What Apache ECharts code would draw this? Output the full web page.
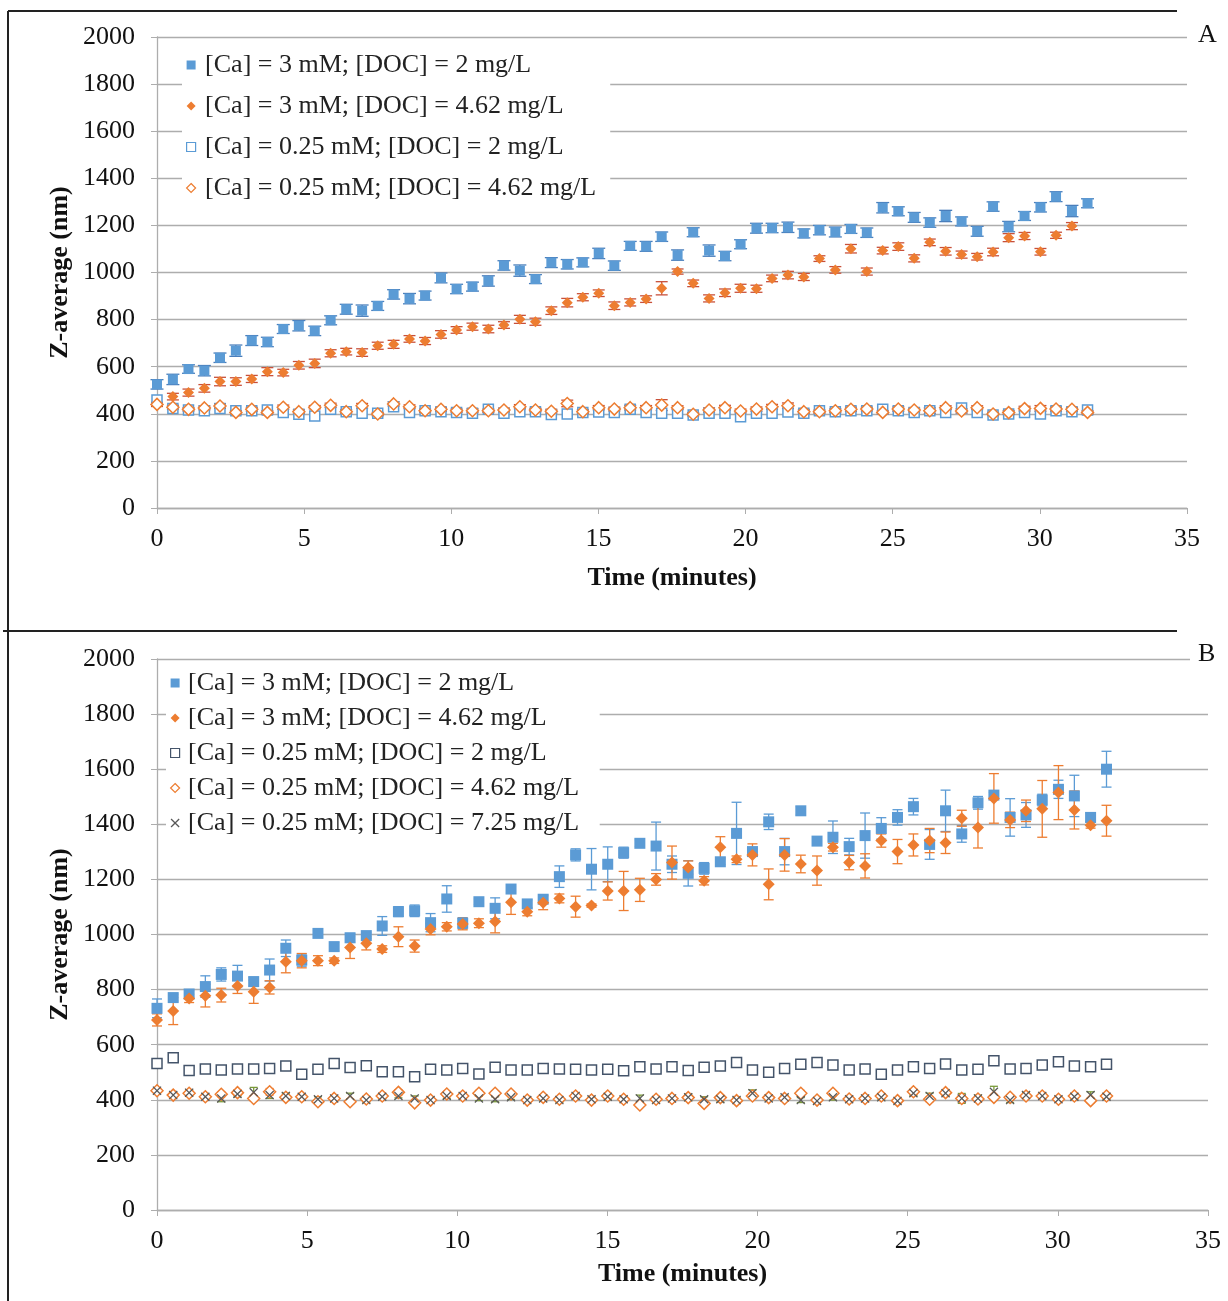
<!DOCTYPE html>
<html>
<head>
<meta charset="utf-8">
<title>Z-average vs time</title>
<script src="https://cdn.jsdelivr.net/npm/echarts@6/dist/echarts.min.js"></script>
<style>
  html, body { margin: 0; padding: 0; background: #fff; }
  #chart { width: 1228px; height: 1301px; }
</style>
</head>
<body>
<div id="chart"></div>
<script>
  // sampling times (minutes), shared by every series
  const times = [0.00, 0.54, 1.07, 1.61, 2.14, 2.68, 3.22, 3.75, 4.29, 4.82, 5.36, 5.90, 6.43, 6.97, 7.50, 8.04, 8.58, 9.11, 9.65, 10.18,
    10.72, 11.26, 11.79, 12.33, 12.86, 13.40, 13.94, 14.47, 15.01, 15.54, 16.08, 16.62, 17.15, 17.69, 18.22, 18.76, 19.30, 19.83, 20.37, 20.90,
    21.44, 21.98, 22.51, 23.05, 23.58, 24.12, 24.66, 25.19, 25.73, 26.26, 26.80, 27.34, 27.87, 28.41, 28.94, 29.48, 30.02, 30.55, 31.09, 31.62];

  const legendNames = ['[Ca] = 3 mM; [DOC] = 2 mg/L', '[Ca] = 3 mM; [DOC] = 4.62 mg/L', '[Ca] = 0.25 mM; [DOC] = 2 mg/L',
    '[Ca] = 0.25 mM; [DOC] = 4.62 mg/L', '[Ca] = 0.25 mM; [DOC] = 7.25 mg/L'];
  const yTicks = [0, 200, 400, 600, 800, 1000, 1200, 1400, 1600, 1800, 2000];
  const xTicks = [0, 5, 10, 15, 20, 25, 30, 35];

  // ---- panel A ----
  const a_ca3_doc2 = [525, 546, 590, 583, 638, 668, 711, 705, 760, 774, 752, 797, 844, 838, 858, 907, 889, 902, 977, 930,
    940, 964, 1030, 1008, 972, 1042, 1035, 1043, 1081, 1029, 1113, 1111, 1152, 1074, 1171, 1093, 1070, 1120, 1188, 1189,
    1192, 1166, 1180, 1172, 1185, 1169, 1275, 1260, 1234, 1212, 1240, 1217, 1175, 1280, 1195, 1240, 1277, 1322, 1261, 1294];
  const a_ca3_doc2_err = [20, 22, 18, 22, 20, 24, 21, 20, 19, 22, 20, 19, 21, 24, 19, 20, 22, 19, 21, 20,
    19, 22, 20, 24, 19, 21, 20, 19, 22, 20, 19, 21, 20, 22, 19, 24, 20, 19, 21, 20,
    22, 19, 20, 21, 19, 20, 22, 19, 21, 20, 24, 19, 21, 20, 22, 19, 20, 21, 24, 19];
  const a_ca3_doc462 = [null, 473, 490, 508, 537, 537, 548, 579, 575, 606, 614, 657, 664, 660, 689, 695, 718, 709, 737, 756,
    770, 760, 777, 801, 791, 838, 872, 895, 912, 859, 873, 887, 933, 1004, 954, 890, 914, 933, 931, 975,
    989, 981, 1059, 1011, 1101, 1004, 1093, 1110, 1060, 1128, 1090, 1076, 1067, 1087, 1148, 1155, 1088, 1158, 1197, null];
  const a_ca3_doc462_err = [0, 14, 15, 16, 18, 16, 15, 17, 14, 16, 18, 15, 14, 16, 15, 17, 14, 15, 16, 14,
    15, 16, 14, 17, 15, 16, 18, 15, 14, 16, 15, 14, 28, 11, 14, 15, 16, 17, 15, 14,
    16, 15, 12, 14, 18, 15, 14, 16, 15, 14, 16, 15, 14, 16, 17, 15, 14, 13, 15, 0];
  const a_ca025_doc2 = [459, 423, 416, 413, 423, 413, 413, 416, 406, 398, 391, 419, 409, 402, 402, 430, 405, 413, 409, 405,
    402, 419, 402, 409, 409, 397, 399, 405, 408, 406, 419, 405, 402, 402, 395, 402, 402, 388, 402, 402,
    408, 402, 413, 409, 413, 413, 419, 413, 406, 413, 406, 425, 406, 395, 399, 405, 399, 413, 409, 416];
  const a_ca025_doc2_err = [8, 7, 6, 7, 8, 6, 7, 6, 8, 7, 6, 7, 8, 6, 7, 6, 7, 8, 6, 7,
    6, 7, 8, 6, 7, 6, 7, 8, 6, 7, 6, 7, 8, 6, 7, 6, 8, 7, 6, 7,
    8, 6, 7, 6, 7, 8, 6, 7, 6, 7, 8, 6, 7, 6, 7, 8, 6, 7, 6, 7];
  const a_ca025_doc462 = [440, 428, 419, 425, 433, 406, 419, 406, 428, 409, 428, 436, 409, 434, 399, 442, 430, 413, 419, 413,
    413, 413, 416, 430, 416, 411, 444, 409, 426, 420, 426, 426, 437, 426, 398, 416, 426, 412, 420, 430,
    434, 409, 409, 413, 419, 420, 406, 420, 416, 413, 426, 412, 426, 399, 405, 422, 423, 420, 419, 406];
  const a_ca025_doc462_err = [9, 8, 7, 8, 10, 7, 8, 7, 9, 8, 7, 9, 8, 10, 7, 9, 8, 7, 8, 7,
    8, 7, 8, 9, 7, 8, 14, 8, 9, 8, 10, 9, 23, 8, 7, 9, 10, 8, 9, 10,
    12, 8, 7, 8, 9, 8, 7, 9, 8, 12, 8, 9, 8, 7, 8, 10, 12, 9, 8, 7];

  // ---- panel B ----
  const b_ca3_doc2 = [732, 771, 784, 811, 855, 849, 829, 871, 950, 907, 1004, 956, 988, 996, 1031, 1083, 1086, 1043, 1129, 1041,
    1119, 1095, 1165, 1111, 1128, 1210, 1289, 1237, 1255, 1297, 1331, 1321, 1255, 1222, 1240, 1264, 1367, 1301, 1409, 1301,
    1449, 1339, 1353, 1319, 1359, 1385, 1425, 1464, 1327, 1449, 1365, 1478, 1506, 1425, 1434, 1488, 1527, 1503, 1425, 1600];
  const b_ca3_doc2_err = [34, 12, 12, 39, 24, 39, 16, 40, 30, 22, 10, 15, 16, 10, 34, 18, 21, 33, 48, 20,
    10, 38, 10, 15, 15, 39, 22, 75, 63, 20, 12, 87, 30, 46, 21, 10, 113, 12, 28, 48,
    15, 10, 59, 30, 82, 39, 28, 30, 54, 75, 30, 23, 10, 68, 45, 21, 33, 75, 16, 65];
  const b_ca3_doc462 = [690, 722, 768, 778, 780, 813, 792, 808, 901, 905, 905, 905, 953, 968, 947, 992, 958, 1020, 1028, 1038,
    1041, 1047, 1117, 1083, 1115, 1131, 1101, 1105, 1158, 1158, 1162, 1200, 1261, 1243, 1195, 1317, 1273, 1289, 1182, 1289,
    1256, 1232, 1317, 1261, 1249, 1341, 1301, 1325, 1341, 1333, 1422, 1388, 1494, 1416, 1449, 1456, 1515, 1452, 1397, 1413];
  const b_ca3_doc462_err = [22, 49, 15, 41, 25, 27, 42, 24, 40, 26, 18, 10, 40, 24, 12, 36, 22, 21, 15, 21,
    16, 41, 44, 15, 25, 16, 38, 6, 33, 71, 42, 21, 60, 24, 15, 38, 12, 40, 56, 59,
    32, 53, 14, 26, 44, 24, 44, 40, 44, 39, 29, 74, 90, 28, 39, 103, 98, 69, 11, 56];
  const b_ca025_doc2 = [532, 553, 506, 512, 508, 512, 512, 514, 523, 493, 511, 532, 517, 524, 502, 502, 484, 511, 508, 514,
    494, 518, 508, 508, 514, 512, 511, 508, 511, 505, 520, 512, 520, 506, 518, 523, 535, 508, 500, 514,
    529, 535, 526, 508, 512, 493, 508, 520, 514, 530, 508, 511, 542, 512, 514, 526, 538, 523, 520, 529];
  const b_ca025_doc2_err = [8, 13, 6, 7, 6, 7, 6, 7, 9, 6, 7, 12, 7, 8, 6, 7, 6, 7, 6, 7,
    6, 7, 6, 7, 6, 7, 6, 7, 6, 7, 8, 7, 8, 6, 7, 9, 13, 7, 6, 7,
    12, 12, 8, 6, 7, 6, 7, 8, 6, 8, 6, 7, 12, 6, 7, 8, 12, 7, 6, 8];
  const b_ca025_doc462 = [433, 417, 424, 411, 420, 426, 405, 429, 409, 411, 393, 405, 393, 403, 414, 427, 389, 399, 421, 414,
    424, 424, 421, 399, 409, 402, 414, 399, 414, 402, 381, 402, 405, 408, 387, 408, 397, 414, 408, 405,
    424, 399, 424, 403, 405, 414, 397, 429, 402, 426, 405, 403, 409, 409, 414, 414, 402, 414, 397, 414];
  const b_ca025_doc462_err = [9, 8, 10, 8, 9, 10, 8, 12, 9, 8, 7, 9, 8, 7, 9, 10, 8, 7, 9, 8,
    10, 9, 8, 7, 9, 8, 9, 7, 8, 9, 8, 7, 9, 8, 7, 8, 9, 10, 8, 9,
    10, 8, 9, 8, 7, 9, 8, 10, 9, 8, 9, 8, 10, 9, 8, 9, 8, 9, 8, 9];
  const b_ca025_doc725 = [433, 417, 426, 411, 405, 421, 427, 417, 414, 411, 402, 405, 414, 399, 411, 414, 405, 399, 414, 414,
    405, 402, 409, 399, 405, 399, 414, 402, 411, 402, 405, 399, 405, 409, 402, 402, 399, 424, 405, 409,
    399, 396, 409, 402, 405, 409, 396, 424, 414, 424, 405, 405, 429, 399, 417, 414, 402, 411, 417, 411];
  const b_ca025_doc725_err = [9, 8, 10, 9, 12, 10, 18, 12, 10, 8, 9, 8, 10, 9, 8, 7, 9, 8, 9, 10,
    8, 9, 8, 7, 9, 8, 9, 8, 10, 9, 12, 9, 10, 12, 9, 10, 8, 12, 9, 8,
    9, 8, 10, 9, 8, 9, 8, 9, 10, 9, 18, 12, 20, 9, 10, 9, 8, 10, 12, 9];

  const FONT = 'Liberation Serif';
  const BLUE = '#5B9BD5';
  const ORANGE = '#ED7D31';
  const NAVY = '#44546A';
  const GREY = '#595959';
  const GRIDC = '#ADADAD';
  // path symbols keep their aspect in the legend boxes
  const SQ = 'path://M0,0H10V10H0Z';
  const DM = 'path://M5,0L10,5L5,10L0,5Z';
  const CROSS = 'path://M0,1L1,0L10,9L9,10ZM9,0L10,1L1,10L0,9Z';

  function points(vals) {
    const out = [];
    vals.forEach((v, i) => { if (v != null) out.push([times[i], v]); });
    return out;
  }
  function errRows(vals, errs) {
    const out = [];
    vals.forEach((v, i) => { if (v != null) out.push([times[i], v, errs[i]]); });
    return out;
  }

  function errRender(color, cap) {
    return function (params, api) {
      const x = api.value(0), y = api.value(1), e = api.value(2);
      const top = api.coord([x, y + e]);
      const bot = api.coord([x, y - e]);
      const style = { stroke: color, lineWidth: 1.3, fill: null };
      return {
        type: 'group',
        children: [
          { type: 'line', shape: { x1: top[0], y1: top[1], x2: bot[0], y2: bot[1] }, style: style },
          { type: 'line', shape: { x1: top[0] - cap, y1: top[1], x2: top[0] + cap, y2: top[1] }, style: style },
          { type: 'line', shape: { x1: bot[0] - cap, y1: bot[1], x2: bot[0] + cap, y2: bot[1] }, style: style }
        ]
      };
    };
  }

  function errSeries(idx, vals, errs, color, cap) {
    return {
      type: 'custom',
      name: 'err',
      xAxisIndex: idx,
      yAxisIndex: idx,
      silent: true,
      animation: false,
      z: 1,
      renderItem: errRender(color, cap),
      encode: { x: 0, y: 1 },
      data: errRows(vals, errs)
    };
  }

  function dots(idx, name, vals, symbol, size, fill, stroke, bw) {
    return {
      type: 'scatter',
      name: name,
      xAxisIndex: idx,
      yAxisIndex: idx,
      symbol: symbol,
      symbolSize: size,
      itemStyle: { color: fill, borderColor: stroke, borderWidth: bw, opacity: 1 },
      animation: false,
      z: 3,
      data: points(vals)
    };
  }

  function xAx(idx, gap) {
    return {
      type: 'value', gridIndex: idx, min: xTicks[0], max: xTicks[xTicks.length - 1], interval: 5,
      name: 'Time (minutes)', nameLocation: 'middle', nameGap: gap, nameMoveOverlap: false,
      nameTextStyle: { fontFamily: FONT, fontSize: 26, fontWeight: 'bold', color: '#111' },
      axisLine: { show: true, lineStyle: { color: GRIDC, width: 1.3 } },
      axisTick: { show: true, length: 6, lineStyle: { color: GRIDC } },
      axisLabel: { margin: 18, fontFamily: FONT, fontSize: 26, color: '#111' },
      splitLine: { show: false }
    };
  }
  function yAx(idx) {
    return {
      type: 'value', gridIndex: idx, min: yTicks[0], max: yTicks[yTicks.length - 1], interval: 200,
      name: 'Z-average (nm)', nameLocation: 'middle', nameGap: 84, nameRotate: 90, nameMoveOverlap: false,
      nameTextStyle: { fontFamily: FONT, fontSize: 26, fontWeight: 'bold', color: '#111' },
      axisLine: { show: true, lineStyle: { color: GRIDC, width: 1.3 } },
      axisTick: { show: true, length: 6, lineStyle: { color: GRIDC } },
      axisLabel: { margin: 22, fontFamily: FONT, fontSize: 26, color: '#111', formatter: v => String(v) },
      splitLine: { show: true, lineStyle: { color: GRIDC, width: 1.3 } }
    };
  }

  // panel B series get a trailing space so the two legends stay apart
  const bNames = legendNames.map(n => n + ' ');
  // outline-only markers keep a thin border in the legend, filled ones none
  const outlined = [false, false, true, true, false];

  function legendBox(left, top, iw, gap, names) {
    return {
      orient: 'vertical', left: left, top: top, padding: [4, 14, 4, 4],
      backgroundColor: '#fff', itemWidth: iw, itemHeight: 9, itemGap: gap,
      selectedMode: false, symbolKeepAspect: true,
      textStyle: { fontFamily: FONT, fontSize: 26, lineHeight: 30, color: '#222' },
      data: names.map((n, i) => ({ name: n, itemStyle: { borderWidth: outlined[i] ? 1.2 : 0 } }))
    };
  }

  const options = {
    backgroundColor: '#fff',
    animation: false,
    grid: [
      { left: 157, right: 41, top: 37, bottom: 793, containLabel: false, outerBoundsMode: 'none' },
      { left: 157, right: 20, top: 659, bottom: 91, containLabel: false, outerBoundsMode: 'none' }
    ],
    xAxis: [xAx(0, 57), xAx(1, 51)],
    yAxis: [yAx(0), yAx(1)],
    legend: [
      legendBox(182, 46, 18, 11, legendNames.slice(0, 4)),
      legendBox(166, 664, 16, 5, bNames)
    ],
    graphic: [
      { type: 'line', z: 50, shape: { x1: 8, y1: 11, x2: 1177, y2: 11 }, style: { stroke: '#222', lineWidth: 2 } },
      { type: 'line', z: 50, shape: { x1: 8, y1: 11, x2: 8, y2: 1301 }, style: { stroke: '#222', lineWidth: 2 } },
      { type: 'line', z: 50, shape: { x1: 3, y1: 631, x2: 1177, y2: 631 }, style: { stroke: '#222', lineWidth: 2 } },
      { type: 'text', z: 50, left: 1190, top: 22,
        style: { text: 'A', font: '26px "Liberation Serif"', fill: '#111', backgroundColor: '#fff', padding: [0, 10, 0, 8] } },
      { type: 'text', z: 50, left: 1190, top: 641,
        style: { text: 'B', font: '26px "Liberation Serif"', fill: '#111', backgroundColor: '#fff', padding: [0, 10, 0, 8] } }
    ],
    series: [
      // panel A
      errSeries(0, a_ca3_doc2, a_ca3_doc2_err, '#4A7EBB', 6.5),
      errSeries(0, a_ca3_doc462, a_ca3_doc462_err, '#C8503A', 6),
      errSeries(0, a_ca025_doc2, a_ca025_doc2_err, '#4A7EBB', 5),
      errSeries(0, a_ca025_doc462, a_ca025_doc462_err, '#C8503A', 6),
      dots(0, legendNames[0], a_ca3_doc2, SQ, 10, BLUE, BLUE, 0),
      dots(0, legendNames[1], a_ca3_doc462, DM, 11, ORANGE, ORANGE, 0),
      dots(0, legendNames[2], a_ca025_doc2, SQ, 10, '#fff', BLUE, 1.5),
      dots(0, legendNames[3], a_ca025_doc462, DM, 12, '#fff', ORANGE, 1.5),
      // panel B
      errSeries(1, b_ca3_doc2, b_ca3_doc2_err, BLUE, 5),
      errSeries(1, b_ca3_doc462, b_ca3_doc462_err, ORANGE, 5),
      errSeries(1, b_ca025_doc2, b_ca025_doc2_err, NAVY, 4),
      errSeries(1, b_ca025_doc462, b_ca025_doc462_err, ORANGE, 4),
      errSeries(1, b_ca025_doc725, b_ca025_doc725_err, '#7A9A3A', 4),
      dots(1, bNames[0], b_ca3_doc2, SQ, 11, BLUE, BLUE, 0),
      dots(1, bNames[1], b_ca3_doc462, DM, 12, ORANGE, ORANGE, 0),
      dots(1, bNames[2], b_ca025_doc2, SQ, 10, '#fff', NAVY, 1.5),
      dots(1, bNames[3], b_ca025_doc462, DM, 12, '#fff', ORANGE, 1.5),
      dots(1, bNames[4], b_ca025_doc725, CROSS, 9, GREY, GREY, 0)
    ]
  };

  const chart = echarts.init(document.getElementById('chart'));
  chart.setOption(options);
</script>
</body>
</html>
